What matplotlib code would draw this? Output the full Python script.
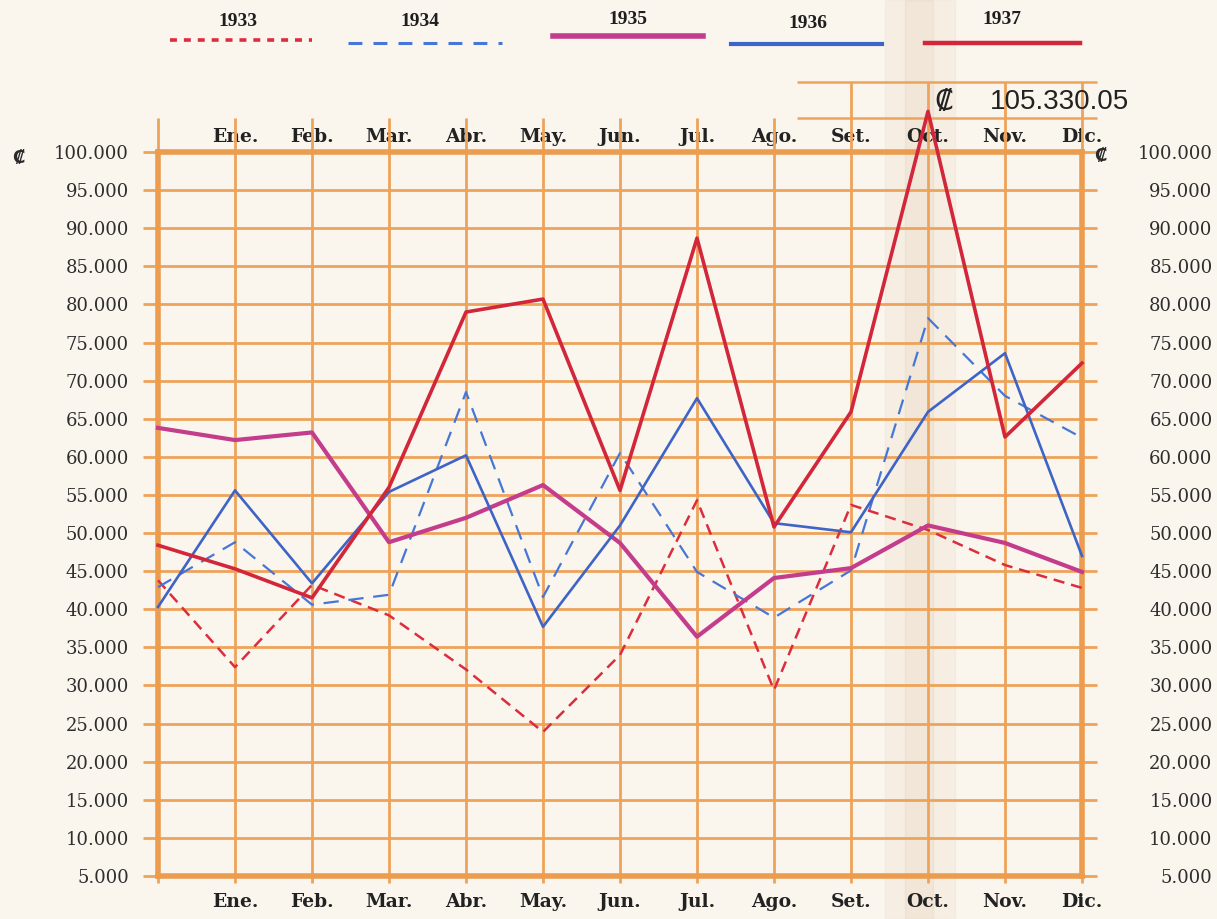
import matplotlib.pyplot as plt
from matplotlib.lines import Line2D
from matplotlib.patches import Rectangle

plt.rcParams['lines.scale_dashes'] = False

# monthly data, point 0 is the starting value before "Ene."
months = ['Ene.', 'Feb.', 'Mar.', 'Abr.', 'May.', 'Jun.', 'Jul.', 'Ago.', 'Set.', 'Oct.', 'Nov.', 'Dic.']
x = list(range(13))

v1933 = [43800, 32400, 43200, 39200, 32100, 23900, 34000, 54300, 29400, 53700, 50400, 45800, 42800]
v1934 = [42900, 48800, 40600, 41900, 68500, 41600, 60500, 44900, 38900, 45100, 78200, 68000, 62500]
v1935 = [63800, 62200, 63200, 48800, 52000, 56300, 48700, 36400, 44100, 45400, 51000, 48700, 44900]
v1936 = [40300, 55600, 43400, 55400, 60200, 37700, 51000, 67700, 51300, 50100, 65900, 73600, 47000]
v1937 = [48400, 45300, 41500, 56000, 79000, 80700, 55600, 88700, 50800, 65900, 105330.05, 62600, 72300]

years = ['1933', '1934', '1935', '1936', '1937']
y_ticks = list(range(5000, 100001, 5000))
y_labels = [f"{v:,}".replace(',', '.') for v in y_ticks]

W, H = 1217, 919
paper = '#faf5ed'
grid_c = '#eea35a'
frame_c = '#eb9c4f'

fig = plt.figure(figsize=(W / 100, H / 100), dpi=100, facecolor=paper)
# faint fold stain in the paper, kept behind the axes
fig.patches.append(Rectangle((885 / W, 0), 70 / W, 1, transform=fig.transFigure,
                             color='#dcc6a6', alpha=0.13, zorder=-5))
fig.patches.append(Rectangle((905 / W, 0), 28 / W, 1, transform=fig.transFigure,
                             color='#cfb08a', alpha=0.12, zorder=-5))

ax = fig.add_axes([158 / W, 1 - 876 / H, (1082 - 158) / W, (876 - 152) / H])
ax.set_facecolor('none')
ax.set_xlim(0, 12)
ax.set_ylim(5000, 100000)

# grid drawn by hand so it can stick out of the frame like on the paper
ax.hlines(y_ticks, -0.2, 12.2, color=grid_c, lw=2, zorder=1, clip_on=False)
ax.vlines(range(0, 9), 4100, 104500, color=grid_c, lw=2, zorder=1, clip_on=False)
ax.vlines(range(9, 13), 4100, 109200, color=grid_c, lw=2, zorder=1, clip_on=False)
ax.hlines([104500, 109200], 8.3, 12.2, color=grid_c, lw=1.8, zorder=1, clip_on=False)

for s in ax.spines.values():
    s.set_color(frame_c)
    s.set_linewidth(4)
    s.set_zorder(2)

ax.plot(x, v1933, color='#dc2d3f', lw=1.8, dashes=(8, 5), zorder=3, clip_on=False)
ax.plot(x, v1934, color='#4677d6', lw=1.6, dashes=(11, 7), zorder=3, clip_on=False)
ax.plot(x, v1935, color='#c43c8c', lw=3.0, zorder=4, clip_on=False)
ax.plot(x, v1936, color='#3d64c6', lw=1.9, zorder=4, clip_on=False)
ax.plot(x, v1937, color='#d2263a', lw=2.6, zorder=5, clip_on=False)

# ticks and labels
tick_font = dict(family='DejaVu Serif', size=13, color='#2e2e2e')
month_font = dict(family='DejaVu Serif', size=13.5, weight='bold', color='#222222')

ax.set_yticks(y_ticks)
ax.set_yticklabels(y_labels, fontdict=tick_font)
ax.tick_params(axis='y', length=0, pad=21)

sec_y = ax.secondary_yaxis('right')
sec_y.set_yticks(y_ticks)
sec_y.set_yticklabels(y_labels, fontdict=tick_font)
sec_y.tick_params(length=0, pad=94)
sec_y.spines['right'].set_visible(False)
plt.setp(sec_y.get_yticklabels(), ha='right')

ax.set_xticks(range(1, 13))
ax.set_xticklabels(months, fontdict=month_font)
ax.tick_params(axis='x', length=0, pad=12)

sec_x = ax.secondary_xaxis('top')
sec_x.set_xticks(range(1, 13))
sec_x.set_xticklabels(months, fontdict=month_font)
sec_x.tick_params(length=0, pad=4)
sec_x.spines['top'].set_visible(False)

# currency marks beside the 100.000 labels
fig.text(18 / W, 1 - 158 / H, '\u20a1', ha='center', va='center',
         family=['DejaVu Serif', 'DejaVu Sans'], weight='bold', size=13, color='#2a2a2a')
fig.text(1100 / W, 1 - 156 / H, '\u20a1', ha='center', va='center',
         family=['DejaVu Serif', 'DejaVu Sans'], weight='bold', size=13, color='#2a2a2a')

# peak value note
peak = max(v1937)
peak_txt = f"{peak:,.2f}".replace(',', '.')
ax.text(10.2, 106500, '\u20a1', ha='center', va='center', family=['DejaVu Serif', 'DejaVu Sans'],
        size=21, color='#222222', clip_on=False)
ax.text(10.8, 106500, peak_txt, ha='left', va='center', family=['Liberation Sans', 'DejaVu Sans'],
        size=20, color='#222222', clip_on=False)

# hand drawn legend on top
leg_styles = [
    dict(color='#dc2d3f', lw=2.6, dashes=(5, 5)),
    dict(color='#4677d6', lw=2.2, dashes=(10, 8)),
    dict(color='#c43c8c', lw=4.0),
    dict(color='#3d64c6', lw=3.0),
    dict(color='#d2263a', lw=3.2),
]
leg_pos = [(170, 312, 40, 238, 22), (348, 502, 43, 420, 21), (553, 703, 36, 628, 20),
           (731, 882, 44, 808, 23), (925, 1080, 43, 1002, 20)]
for yr, st, (x0, x1, ly, tx, ty) in zip(years, leg_styles, leg_pos):
    fig.add_artist(Line2D([x0 / W, x1 / W], [1 - ly / H, 1 - ly / H],
                          transform=fig.transFigure, **st))
    fig.text(tx / W, 1 - ty / H, yr, ha='center', va='center', family=['Liberation Serif', 'DejaVu Serif'],
             weight='bold', size=14, color='#1e1e1e')

fig.savefig('out.png', dpi=100, facecolor=paper)
